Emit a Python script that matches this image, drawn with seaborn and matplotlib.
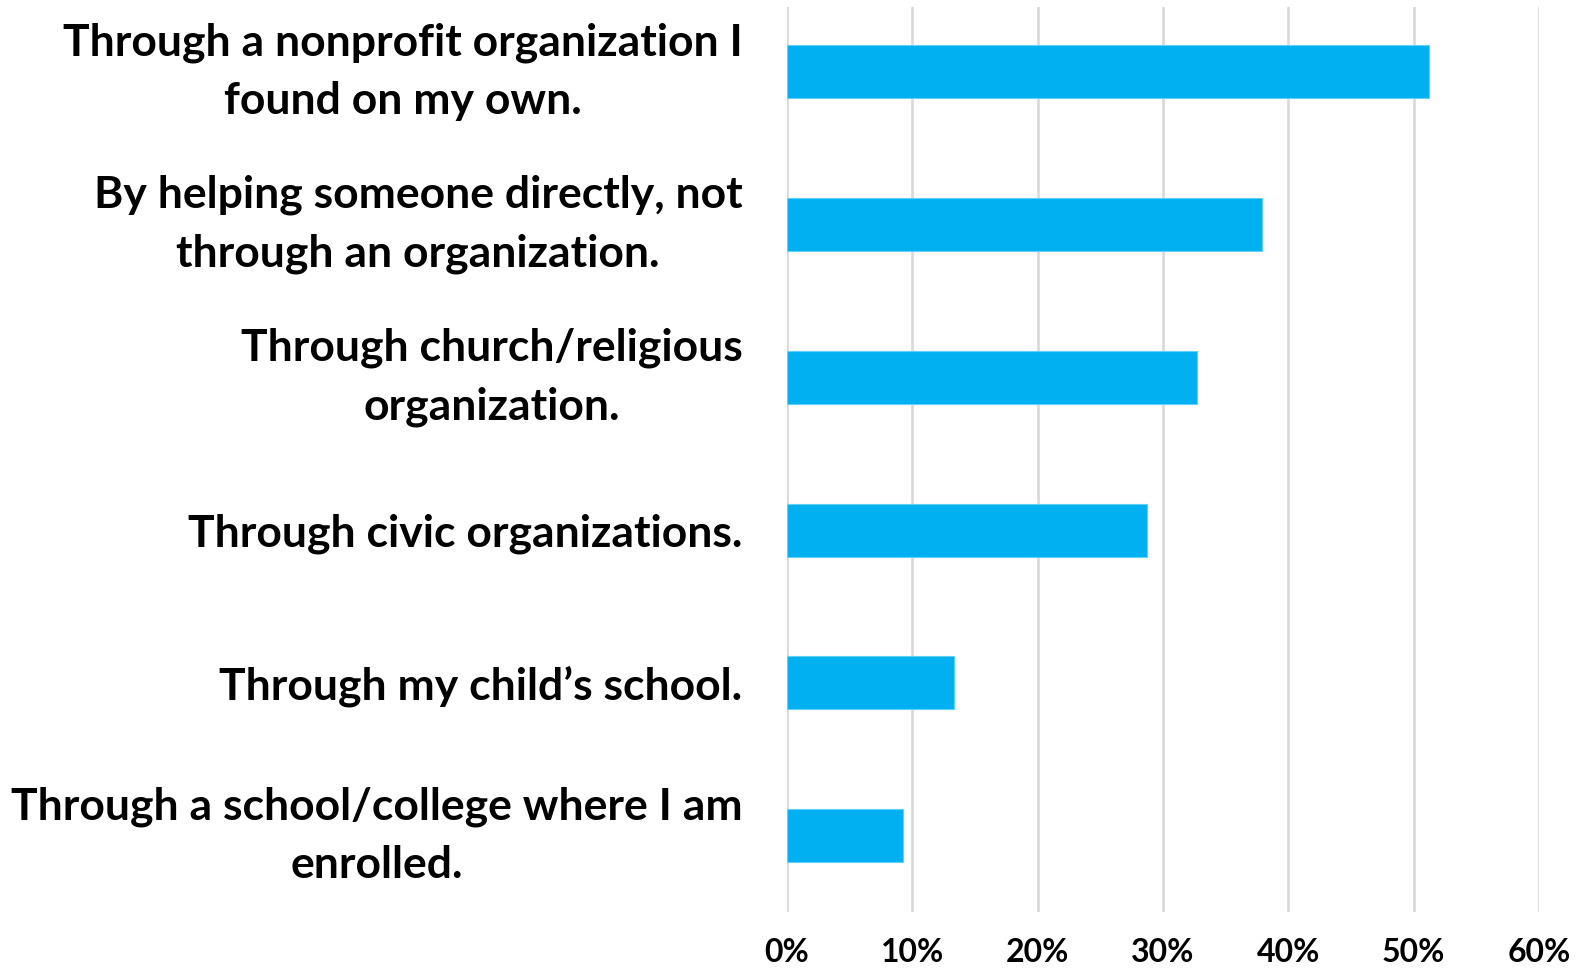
import matplotlib
matplotlib.use("Agg")
import matplotlib.pyplot as plt
import seaborn as sns
import pandas as pd
from matplotlib.ticker import PercentFormatter

# Survey responses: how people volunteer
categories = [
    "Through a nonprofit organization I\nfound on my own.",
    "By helping someone directly, not\nthrough an organization.",
    "Through church/religious\norganization.",
    "Through civic organizations.",
    "Through my child\u2019s school.",
    "Through a school/college where I am\nenrolled.",
]
shares = [51.2, 37.9, 32.7, 28.7, 13.3, 9.3]
x_ticks = [0, 10, 20, 30, 40, 50, 60]

df = pd.DataFrame({"category": categories, "share": shares})

sns.set_style("white")
plt.rcParams["font.family"] = ["Lato", "DejaVu Sans"]
plt.rcParams["font.weight"] = "bold"

fig = plt.figure(figsize=(15.93, 9.72), dpi=100)
ax = fig.add_axes([0.4939, 0.0617, 0.4722, 0.9311])

sns.barplot(data=df, x="share", y="category", orient="h", color="#00B0F0",
            saturation=1, width=0.347, edgecolor="#5fd0f7", linewidth=0.8, ax=ax)

ax.set_xlim(0, 60)
ax.set_ylim(5.5, -0.424)
ax.set_xticks(x_ticks)
ax.xaxis.set_major_formatter(PercentFormatter(decimals=0))
ax.grid(axis="x", color="#d9d9d9", linewidth=1.9)
ax.set_axisbelow(True)
for side in ["top", "right", "bottom", "left"]:
    ax.spines[side].set_visible(False)
ax.set_xlabel("")
ax.set_ylabel("")
ax.tick_params(axis="y", length=0, pad=32, labelsize=32, labelcolor="black")
ax.tick_params(axis="x", length=0, pad=19, labelsize=23, labelcolor="black")
for lab in ax.get_yticklabels():
    lab.set_multialignment("center")
    lab.set_fontweight("bold")
    lab.set_linespacing(1.55)
    if "\n" in lab.get_text():
        lab.set_verticalalignment("center")
for lab in ax.get_xticklabels():
    lab.set_fontweight("bold")

fig.savefig("out.png", dpi=100)
